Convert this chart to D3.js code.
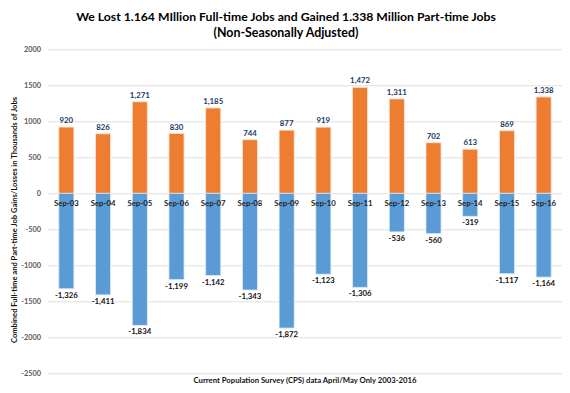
<!DOCTYPE html>
<html>
<head>
<meta charset="utf-8">
<script src="https://cdn.jsdelivr.net/npm/d3@7"></script>
<style>
  body { margin: 0; background: #fff; }
  text { font-family: Lato, "Open Sans", sans-serif; font-weight: bold; }
</style>
</head>
<body>
<svg id="chart" width="570" height="393"></svg>
<script>
// data (thousands of jobs)
var years = ["Sep-03", "Sep-04", "Sep-05", "Sep-06", "Sep-07", "Sep-08", "Sep-09",
             "Sep-10", "Sep-11", "Sep-12", "Sep-13", "Sep-14", "Sep-15", "Sep-16"];
var partTime = [920, 826, 1271, 830, 1185, 744, 877, 919, 1472, 1311, 702, 613, 869, 1338];
var fullTime = [-1326, -1411, -1834, -1199, -1142, -1343, -1872, -1123, -1306, -536, -560, -319, -1117, -1164];
var yTicks = [2000, 1500, 1000, 500, 0, -500, -1000, -1500, -2000, -2500];

var svg = d3.select("#chart");
// excel style: plain hyphen for negatives
var fmt = function(v) { return d3.format(",")(Math.abs(v)).replace(/^/, v < 0 ? "-" : ""); };

var x = d3.scaleBand()
    .domain(years)
    .range([48, 562])
    .paddingInner(0.59)
    .paddingOuter(0.295);

var y = d3.scaleLinear()
    .domain([-2500, 2000])
    .range([373.3, 49.3]);

// gridlines + tick labels
var yAxis = d3.axisLeft(y).tickValues(yTicks).tickSize(-514).tickPadding(7)
    .tickFormat(function(d) { return String(d); });
var gAxis = svg.append("g")
    .attr("transform", "translate(48,0)")
    .call(yAxis);
gAxis.select(".domain").remove();
gAxis.selectAll(".tick line").attr("stroke", "#e0e0e0").attr("stroke-width", 1);
gAxis.selectAll(".tick text")
    .attr("fill", "#595959")
    .style("font-size", "7.3px")
    .style("font-family", "Lato, sans-serif");

var rows = years.map(function(d, i) { return { year: d, part: partTime[i], full: fullTime[i] }; });

// orange part-time gains
svg.selectAll(".bar-part")
  .data(rows)
  .enter().append("rect")
    .attr("class", "bar-part")
    .attr("x", function(d) { return x(d.year); })
    .attr("y", function(d) { return y(d.part); })
    .attr("width", x.bandwidth())
    .attr("height", function(d) { return y(0) - y(d.part); })
    .attr("fill", "#ed7d31")
    .attr("stroke", "#fbe3d3")
    .attr("stroke-width", 0.8);

// blue full-time losses
svg.selectAll(".bar-full")
  .data(rows)
  .enter().append("rect")
    .attr("class", "bar-full")
    .attr("x", function(d) { return x(d.year); })
    .attr("y", y(0))
    .attr("width", x.bandwidth())
    .attr("height", function(d) { return y(d.full) - y(0); })
    .attr("fill", "#5b9bd5")
    .attr("stroke", "#dceaf6")
    .attr("stroke-width", 0.8);

// value labels
svg.selectAll(".lbl-part")
  .data(rows)
  .enter().append("text")
    .attr("x", function(d) { return x(d.year) + x.bandwidth() / 2; })
    .attr("y", function(d) { return y(d.part) - 4; })
    .attr("text-anchor", "middle")
    .attr("fill", "#203864")
    .style("font-size", "7.8px")
    .text(function(d) { return fmt(d.part); });

svg.selectAll(".lbl-full")
  .data(rows)
  .enter().append("text")
    .attr("x", function(d) { return x(d.year) + x.bandwidth() / 2; })
    .attr("y", function(d) { return y(d.full) + 9; })
    .attr("text-anchor", "middle")
    .attr("fill", "#111")
    .style("font-size", "7.8px")
    .text(function(d) { return fmt(d.full); });

// category labels sit on the zero line
var xAxis = d3.axisBottom(x).tickSize(0).tickPadding(7);
var gx = svg.append("g")
    .attr("transform", "translate(0," + y(0) + ")")
    .call(xAxis);
gx.select(".domain").remove();
gx.selectAll(".tick text")
    .attr("fill", "#262626")
    .style("font-size", "7.8px")
    .style("font-family", "Lato, sans-serif");

// titles, sized so their width matches the picture
function fitText(sel, target) {
  var len = sel.node().getComputedTextLength();
  var size = parseFloat(sel.style("font-size"));
  sel.style("font-size", (size * target / len).toFixed(2) + "px");
}

var t1 = svg.append("text")
    .attr("x", 286).attr("y", 21)
    .attr("text-anchor", "middle")
    .attr("fill", "#000")
    .style("font-size", "14px")
    .text("We Lost 1.164 MIllion Full-time Jobs and Gained 1.338 Million Part-time Jobs");
fitText(t1, 420);

var t2 = svg.append("text")
    .attr("x", 286).attr("y", 37)
    .attr("text-anchor", "middle")
    .attr("fill", "#000")
    .style("font-size", "14px")
    .text("(Non-Seasonally Adjusted)");
fitText(t2, 145);

var t3 = svg.append("text")
    .attr("x", 305).attr("y", 383)
    .attr("text-anchor", "middle")
    .attr("fill", "#111")
    .style("font-size", "8.5px")
    .text("Current Population Survey (CPS) data April/May Only 2003-2016");
fitText(t3, 223);

var t4 = svg.append("text")
    .attr("transform", "translate(17,220) rotate(-90)")
    .attr("text-anchor", "middle")
    .attr("fill", "#111")
    .style("font-size", "8.5px")
    .text("Combined Full-time and Part-time Job Gains/Losses in Thousands of Jobs");
fitText(t4, 246);
</script>
</body>
</html>
